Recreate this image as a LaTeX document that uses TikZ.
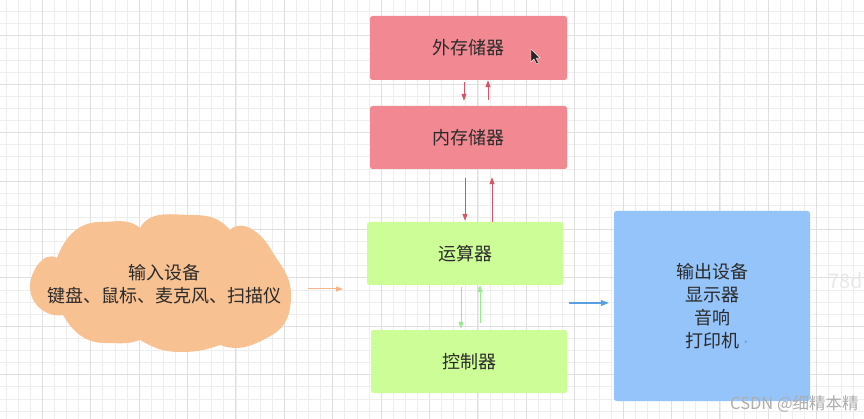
\documentclass[tikz,border=0pt]{standalone}
\usepackage{fontspec}
\setmainfont{Noto Sans CJK SC}
\usetikzlibrary{arrows.meta,calc}
\definecolor{cpink}{HTML}{F28891}
\definecolor{cgreen}{HTML}{CDFD97}
\definecolor{cblue}{HTML}{94C4FA}
\definecolor{ccloud}{HTML}{F8C192}
\definecolor{ared}{HTML}{D45468}
\definecolor{agreen}{HTML}{96EA8C}
\definecolor{aorange}{HTML}{F5B48A}
\definecolor{ablue}{HTML}{5A9FE0}
\definecolor{ctext}{HTML}{2A2A2A}
\definecolor{gminor}{HTML}{EEEEEE}
\definecolor{gmajor}{HTML}{E0E0E0}
\tikzset{
  box/.style={rounded corners=2.5pt, draw=none, minimum width=197pt, minimum height=64pt,
    inner sep=0pt, text=ctext, font=\fontsize{18}{23}\selectfont, align=center},
  redarrow/.style={draw=ared, line width=1pt, -{Triangle[length=7pt,width=5pt]}},
  greenarrow/.style={draw=agreen, line width=1pt, -{Triangle[length=7pt,width=5pt]}},
  orangearrow/.style={draw=aorange, line width=1pt, -{Triangle[length=7pt,width=5pt]}},
  bluearrow/.style={draw=ablue, line width=1.2pt, -{Triangle[length=8pt,width=6pt]}},
  minorgrid/.style={draw=gminor, line width=0.8pt},
  majorgrid/.style={draw=gmajor, line width=1pt},
}
\begin{document}
\begin{tikzpicture}[x=1pt,y=-1pt]
\useasboundingbox (0,0) rectangle (864,419);
\fill[white] (0,0) rectangle (864,419);
% grid
\foreach \k in {0,...,71} \draw[minorgrid] ({6+12.1*\k},0) -- ({6+12.1*\k},419);
\foreach \k in {0,...,34} \draw[minorgrid] (0,{11.7+12.1*\k}) -- (864,{11.7+12.1*\k});
\foreach \k in {0,...,17} \draw[majorgrid] ({42.3+48.4*\k},0) -- ({42.3+48.4*\k},419);
\foreach \k in {0,...,8} \draw[majorgrid] (0,{35.9+48.4*\k}) -- (864,{35.9+48.4*\k});

% faint watermark text
\node[anchor=east, text=black!9, font=\fontsize{20}{20}\selectfont, inner sep=0pt] (wm2) at (863,281) {78d};

% cloud (to-path angles are screen angles)
\fill[ccloud] (30,287)
  to[out=90,in=150] (57,258)
  to[out=70,in=180] (100,222)
  to[out=0,in=140] (140,228)
  to[out=60,in=180] (193,215)
  to[out=0,in=130] (230,230)
  to[out=45,in=120] (270,248)
  to[out=-60,in=90] (291,295)
  to[out=-90,in=30] (272,335)
  to[out=210,in=340] (220,345)
  to[out=200,in=0] (180,352)
  to[out=180,in=-30] (140,340)
  to[out=200,in=0] (105,343)
  to[out=180,in=-60] (63,315)
  to[out=190,in=270] (30,287) -- cycle;
\node[text=ctext, font=\fontsize{18}{23}\selectfont, align=center, inner sep=0pt] (inp) at (164,284)
  {输入设备\\键盘、鼠标、麦克风、扫描仪};

% boxes
\node[box, fill=cpink, minimum height=64pt] (ext) at (468.5,48) {外存储器};
\node[box, fill=cpink, minimum height=63pt] (int) at (468.5,137.5) {内存储器};
\node[box, fill=cgreen, minimum width=196pt, minimum height=63pt] (alu) at (465,253.5) {运算器};
\node[box, fill=cgreen, minimum width=196pt, minimum height=63pt] (ctl) at (469,361.5) {控制器};
\node[box, fill=cblue, minimum width=196pt, minimum height=190pt] (out) at (712,306)
  {输出设备\\显示器\\音响\\打印机};
\fill[ablue] (745.7,341.7) circle [radius=1.1];

% arrows
\draw[redarrow] ($(ext.south)+(-4.5,2)$) -- ($(int.north)+(-4.5,-5)$);
\draw[redarrow] ($(int.north)+(19.5,-6)$) -- ($(ext.south)+(19.5,0)$);
\draw[redarrow] ($(int.south)+(-3.5,9)$) -- ($(alu.north)+(0,-1)$);
\draw[redarrow] ($(alu.north)+(27,0)$) -- ($(int.south)+(23.5,8)$);
\draw[greenarrow] ($(alu.south)+(-4,2)$) -- ($(ctl.north)+(-8,-1)$);
\draw[greenarrow] ($(ctl.north)+(11,-7)$) -- ($(alu.south)+(15,0)$);
\coordinate (ia) at (308,289);
\coordinate (ib) at (343,289);
\draw[orangearrow] (ia) -- (ib);
\coordinate (oa) at (569,303);
\draw[bluearrow] (oa) -- ($(out.west)+(-5,-3)$);

% mouse cursor
\filldraw[fill=black!85, draw=white, line width=0.4pt]
  (531,49) -- (531,62) -- (534,59) -- (536.5,64) -- (538.5,63) -- (536,58) -- (540,58) -- cycle;

% watermark
\node[anchor=west, text=black!32, font=\fontsize{16.5}{16.5}\selectfont, inner sep=0pt] (wm) at (730,404) {CSDN @细精本精};
\end{tikzpicture}
\end{document}
